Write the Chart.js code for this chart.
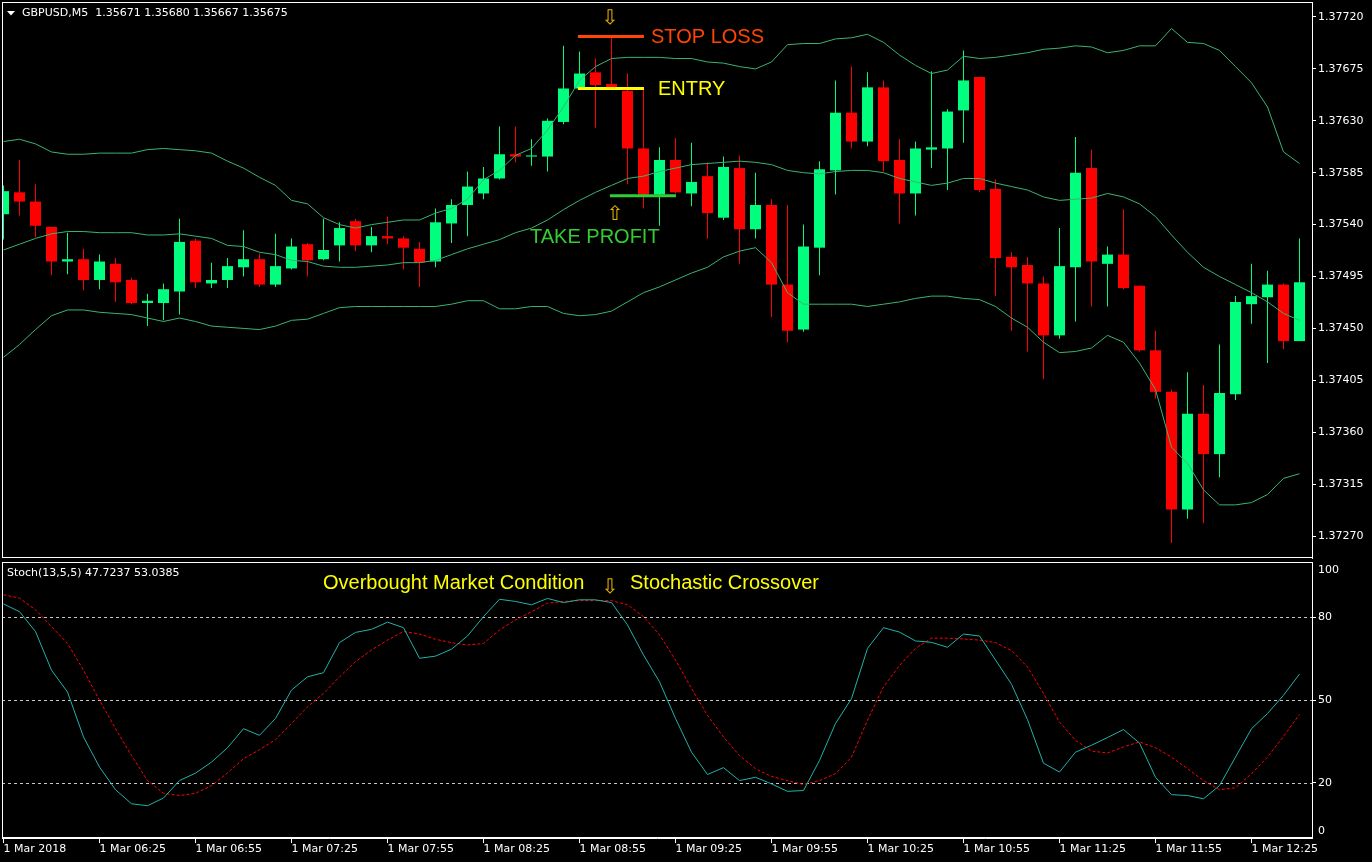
<!DOCTYPE html>
<html>
<head>
<meta charset="utf-8">
<script src="https://cdn.jsdelivr.net/npm/chart.js@4.4.1/dist/chart.umd.min.js"></script>
<style>
  html, body { margin: 0; padding: 0; background: #000; }
  #wrap { position: relative; width: 1372px; height: 862px; background: #000; overflow: hidden; }
  #price { position: absolute; left: 0; top: 0; }
  #stoch { position: absolute; left: 0; top: 560px; }
</style>
</head>
<body>
<div id="wrap">
  <canvas id="price" width="1372" height="560"></canvas>
  <canvas id="stoch" width="1372" height="302"></canvas>
</div>
<script>
// GBPUSD M5, bars from 1 Mar 05:55 to 12:40
const opens = [1.37549, 1.37568, 1.37560, 1.37538, 1.37508, 1.37510, 1.37492, 1.37506, 1.37492, 1.37472,
  1.37472, 1.37482, 1.37526, 1.37489, 1.37492, 1.37503, 1.37510, 1.37488, 1.37502, 1.37523,
  1.37510, 1.37522, 1.37543, 1.37522, 1.37530, 1.37528, 1.37519, 1.37508, 1.37541, 1.37557,
  1.37567, 1.37580, 1.37601, 1.37599, 1.37599, 1.37629, 1.37658, 1.37672, 1.37662, 1.37656,
  1.37606, 1.37566, 1.37596, 1.37567, 1.37582, 1.37546, 1.37589, 1.37536, 1.37557, 1.37488,
  1.37449, 1.37520, 1.37587, 1.37637, 1.37612, 1.37659, 1.37596, 1.37567, 1.37605, 1.37606,
  1.37639, 1.37668, 1.37571, 1.37512, 1.37505, 1.37489, 1.37444, 1.37503, 1.37589, 1.37506,
  1.37514, 1.37487, 1.37431, 1.37395, 1.37293, 1.37376, 1.37341, 1.37393, 1.37471, 1.37477,
  1.37488, 1.37439];
const highs = [1.37574, 1.37596, 1.37575, 1.37538, 1.37533, 1.37519, 1.37514, 1.37511, 1.37494, 1.37480,
  1.37489, 1.37545, 1.37528, 1.37507, 1.37511, 1.37535, 1.37515, 1.37532, 1.37528, 1.37524,
  1.37545, 1.37542, 1.37545, 1.37538, 1.37547, 1.37530, 1.37525, 1.37554, 1.37562, 1.37586,
  1.37590, 1.37625, 1.37625, 1.37614, 1.37632, 1.37695, 1.37690, 1.37684, 1.37702, 1.37671,
  1.37658, 1.37607, 1.37615, 1.37611, 1.37594, 1.37599, 1.37600, 1.37585, 1.37562, 1.37557,
  1.37540, 1.37595, 1.37665, 1.37677, 1.37672, 1.37665, 1.37614, 1.37612, 1.37673, 1.37640,
  1.37691, 1.37668, 1.37579, 1.37516, 1.37512, 1.37495, 1.37537, 1.37616, 1.37605, 1.37521,
  1.37553, 1.37487, 1.37448, 1.37397, 1.37412, 1.37401, 1.37436, 1.37478, 1.37506, 1.37500,
  1.37489, 1.37528];
const lows = [1.37527, 1.37548, 1.37529, 1.37496, 1.37497, 1.37483, 1.37484, 1.37473, 1.37471, 1.37452,
  1.37457, 1.37462, 1.37485, 1.37485, 1.37485, 1.37495, 1.37486, 1.37486, 1.37501, 1.37495,
  1.37509, 1.37508, 1.37517, 1.37516, 1.37523, 1.37501, 1.37486, 1.37503, 1.37524, 1.37530,
  1.37562, 1.37579, 1.37594, 1.37591, 1.37586, 1.37627, 1.37657, 1.37624, 1.37657, 1.37575,
  1.37554, 1.37539, 1.37567, 1.37556, 1.37528, 1.37544, 1.37506, 1.37528, 1.37460, 1.37438,
  1.37447, 1.37496, 1.37566, 1.37606, 1.37608, 1.37586, 1.37541, 1.37548, 1.37589, 1.37570,
  1.37611, 1.37568, 1.37478, 1.37448, 1.37430, 1.37406, 1.37441, 1.37456, 1.37469, 1.37469,
  1.37484, 1.37430, 1.37389, 1.37264, 1.37285, 1.37281, 1.37321, 1.37388, 1.37454, 1.37420,
  1.37432, 1.37439];
const closes = [1.37569, 1.37560, 1.37539, 1.37508, 1.37510, 1.37492, 1.37508, 1.37490, 1.37472, 1.37474,
  1.37484, 1.37525, 1.37490, 1.37492, 1.37504, 1.37510, 1.37488, 1.37504, 1.37521, 1.37509,
  1.37518, 1.37537, 1.37522, 1.37530, 1.37528, 1.37520, 1.37507, 1.37542, 1.37557, 1.37573,
  1.37580, 1.37601, 1.37599, 1.37600, 1.37630, 1.37658, 1.37671, 1.37661, 1.37658, 1.37606,
  1.37566, 1.37596, 1.37568, 1.37577, 1.37550, 1.37590, 1.37536, 1.37557, 1.37488, 1.37448,
  1.37521, 1.37588, 1.37637, 1.37612, 1.37659, 1.37595, 1.37567, 1.37606, 1.37607, 1.37638,
  1.37665, 1.37570, 1.37511, 1.37503, 1.37489, 1.37444, 1.37504, 1.37585, 1.37508, 1.37514,
  1.37485, 1.37431, 1.37395, 1.37293, 1.37376, 1.37341, 1.37394, 1.37473, 1.37478, 1.37488,
  1.37439, 1.37490];

// Bollinger bands
const bbUpper = [1.37612, 1.37614, 1.37610, 1.37603, 1.37601, 1.37601, 1.37602, 1.37602, 1.37602, 1.37605,
  1.37606, 1.37605, 1.37604, 1.37602, 1.37595, 1.37589, 1.37581, 1.37574, 1.37561, 1.37558,
  1.37546, 1.37540, 1.37537, 1.37540, 1.37542, 1.37544, 1.37544, 1.37550, 1.37554, 1.37562,
  1.37579, 1.37587, 1.37600, 1.37606, 1.37622, 1.37642, 1.37665, 1.37677, 1.37684, 1.37685,
  1.37685, 1.37685, 1.37684, 1.37684, 1.37681, 1.37680, 1.37677, 1.37675, 1.37681, 1.37696,
  1.37697, 1.37697, 1.37701, 1.37702, 1.37705, 1.37698, 1.37687, 1.37678, 1.37671, 1.37674,
  1.37686, 1.37684, 1.37685, 1.37687, 1.37689, 1.37692, 1.37693, 1.37695, 1.37694, 1.37689,
  1.37691, 1.37695, 1.37695, 1.37710, 1.37698, 1.37697, 1.37691, 1.37677, 1.37663, 1.37642,
  1.37603, 1.37593];
const bbMiddle = [1.37518, 1.37523, 1.37528, 1.37532, 1.37534, 1.37534, 1.37533, 1.37533, 1.37533, 1.37531,
  1.37531, 1.37532, 1.37530, 1.37528, 1.37522, 1.37521, 1.37516, 1.37514, 1.37509, 1.37508,
  1.37504, 1.37503, 1.37503, 1.37504, 1.37505, 1.37507, 1.37507, 1.37509, 1.37514, 1.37519,
  1.37523, 1.37527, 1.37533, 1.37537, 1.37544, 1.37553, 1.37561, 1.37568, 1.37574, 1.37580,
  1.37582, 1.37586, 1.37589, 1.37592, 1.37593, 1.37594, 1.37595, 1.37594, 1.37592, 1.37587,
  1.37585, 1.37584, 1.37586, 1.37587, 1.37587, 1.37585, 1.37580, 1.37577, 1.37574, 1.37576,
  1.37580, 1.37580, 1.37576, 1.37573, 1.37570, 1.37564, 1.37561, 1.37562, 1.37563, 1.37567,
  1.37564, 1.37558, 1.37547, 1.37531, 1.37516, 1.37503, 1.37495, 1.37488, 1.37481, 1.37473,
  1.37463, 1.37457];
const bbLower = [1.37425, 1.37436, 1.37449, 1.37461, 1.37466, 1.37466, 1.37464, 1.37463, 1.37462, 1.37459,
  1.37456, 1.37459, 1.37456, 1.37452, 1.37451, 1.37450, 1.37449, 1.37452, 1.37457, 1.37458,
  1.37463, 1.37468, 1.37469, 1.37469, 1.37469, 1.37469, 1.37469, 1.37469, 1.37471, 1.37474,
  1.37474, 1.37467, 1.37467, 1.37469, 1.37469, 1.37463, 1.37461, 1.37462, 1.37465, 1.37473,
  1.37481, 1.37486, 1.37492, 1.37498, 1.37503, 1.37512, 1.37517, 1.37520, 1.37507, 1.37481,
  1.37471, 1.37471, 1.37471, 1.37471, 1.37469, 1.37471, 1.37473, 1.37476, 1.37478, 1.37478,
  1.37476, 1.37475, 1.37469, 1.37459, 1.37451, 1.37438, 1.37429, 1.37430, 1.37433, 1.37444,
  1.37438, 1.37420, 1.37397, 1.37347, 1.37333, 1.37310, 1.37297, 1.37297, 1.37299, 1.37306,
  1.37320, 1.37324];

// Stochastic(13,5,5)
const stochMain = [84.8, 82.0, 74.8, 60.8, 52.9, 36.6, 25.7, 17.5, 12.4, 11.7,
  14.5, 20.8, 23.5, 27.5, 32.7, 39.6, 37.2, 43.3, 53.6, 58.4,
  59.9, 70.8, 74.5, 75.6, 78.2, 76.2, 65.1, 65.9, 68.4, 73.2,
  80.2, 86.5, 85.7, 84.5, 86.8, 85.3, 86.3, 86.3, 85.3, 77.2,
  66.3, 56.6, 43.3, 31.1, 23.0, 25.5, 20.8, 22.0, 19.6, 16.9,
  17.2, 28.1, 41.5, 50.5, 68.7, 76.2, 74.6, 71.4, 70.9, 69.1,
  73.9, 73.2, 64.5, 55.7, 42.9, 27.1, 23.9, 31.1, 33.6, 36.4,
  39.3, 34.4, 22.0, 15.7, 15.4, 14.2, 19.0, 29.3, 39.6, 45.1,
  51.7, 59.4];
const stochSignal = [88.1, 86.9, 82.7, 76.6, 70.5, 60.8, 49.9, 39.6, 29.9, 20.8,
  16.2, 15.4, 16.2, 19.0, 23.6, 28.7, 32.0, 35.6, 41.5, 47.5,
  52.4, 58.4, 63.9, 68.1, 71.7, 74.8, 73.9, 72.0, 70.8, 69.9,
  70.5, 75.4, 79.0, 82.0, 85.1, 85.7, 86.0, 86.0, 86.0, 84.5,
  80.2, 73.6, 64.5, 54.2, 44.5, 36.6, 29.9, 25.1, 22.3, 20.8,
  19.4, 20.8, 23.3, 29.3, 42.7, 54.8, 62.5, 68.7, 72.4, 72.4,
  72.1, 71.7, 70.8, 67.9, 62.0, 52.4, 42.0, 35.4, 31.5, 30.8,
  33.0, 34.8, 32.7, 29.3, 25.1, 20.8, 17.5, 18.2, 23.3, 29.3,
  36.8, 44.8];

const priceTicks = [1.37270, 1.37315, 1.37360, 1.37405, 1.37450, 1.37495, 1.37540, 1.37585, 1.37630, 1.37675, 1.37720];
const stochTicks = [0, 20, 50, 80, 100];
const stochLevels = [20, 50, 80];
const timeTickBars = [0, 6, 12, 18, 24, 30, 36, 42, 48, 54, 60, 66, 72, 78];
const timeLabels = ['1 Mar 2018', '1 Mar 06:25', '1 Mar 06:55', '1 Mar 07:25', '1 Mar 07:55', '1 Mar 08:25', '1 Mar 08:55',
  '1 Mar 09:25', '1 Mar 09:55', '1 Mar 10:25', '1 Mar 10:55', '1 Mar 11:25', '1 Mar 11:55', '1 Mar 12:25'];

// trade levels drawn on the price panel
const levelNames = ['STOP LOSS', 'ENTRY', 'TAKE PROFIT'];
const levelPrices = [1.37703, 1.37658, 1.37565];
const levelFrom = [35.9, 35.9, 37.9];
const levelTo = [40.03, 40.03, 42.03];
const levelColors = ['#ff4500', '#ffff00', '#32cd32'];

// view window (bars) and price range of the panels
const X_MIN = -0.09375, X_MAX = 81.78125;
const PRICE_MIN = 1.3725095, PRICE_MAX = 1.37733;

const BULL = '#00ff7f', BEAR = '#ff0000', BAND = '#3cb371';
const SMALL = '11px "DejaVu Sans", Tahoma, sans-serif';
const BIG = '20px "Liberation Sans", Arial, sans-serif';
const ARROW = '20px "DejaVu Sans"';

const candleColors = opens.map((o, i) => closes[i] >= o ? BULL : BEAR);
const bodyData = opens.map((o, i) => ({ x: i, y: [o, closes[i]] }));
const wickData = lows.map((l, i) => ({ x: i, y: [l, highs[i]] }));
const toPoints = (arr) => arr.map((v, i) => ({ x: i, y: v }));

function noPad(s) {
  s.paddingTop = 0; s.paddingBottom = 0; s.paddingLeft = 0; s.paddingRight = 0;
}

function lineSet(data, color, extra) {
  return Object.assign({
    type: 'line', data: data, borderColor: color, borderWidth: 1,
    pointRadius: 0, tension: 0, fill: false, order: 0
  }, extra || {});
}

function drawFrame(chart) {
  const { ctx, chartArea: a } = chart;
  ctx.save();
  ctx.strokeStyle = '#ffffff';
  ctx.lineWidth = 1;
  ctx.strokeRect(a.left + 0.5, a.top + 0.5, a.right - a.left, a.bottom - a.top - 1);
  ctx.restore();
}

const priceOverlay = {
  id: 'priceOverlay',
  afterDraw(chart) {
    const ctx = chart.ctx;
    drawFrame(chart);
    ctx.save();
    ctx.fillStyle = '#ffffff';
    ctx.beginPath();
    ctx.moveTo(7, 11); ctx.lineTo(15, 11); ctx.lineTo(11, 15.5);
    ctx.closePath(); ctx.fill();
    ctx.font = SMALL;
    ctx.textBaseline = 'middle';
    ctx.fillText('GBPUSD,M5  1.35671 1.35680 1.35667 1.35675', 22, 13);

    ctx.font = BIG;
    ctx.fillStyle = levelColors[0]; ctx.fillText(levelNames[0], 651, 37);
    ctx.fillStyle = levelColors[1]; ctx.fillText(levelNames[1], 658, 89);
    ctx.fillStyle = levelColors[2]; ctx.fillText(levelNames[2], 530, 237);

    ctx.font = ARROW;
    ctx.textAlign = 'center';
    ctx.fillStyle = '#e8b400';
    ctx.fillText('\u21E9', 610, 19);
    ctx.fillText('\u21E7', 615, 215);
    ctx.restore();
  }
};

const stochOverlay = {
  id: 'stochOverlay',
  beforeDatasetsDraw(chart) {
    const { ctx, chartArea: a, scales } = chart;
    ctx.save();
    ctx.strokeStyle = '#c8c8c8';
    ctx.lineWidth = 1;
    ctx.setLineDash([3, 3]);
    stochLevels.forEach((lv) => {
      const y = Math.round(scales.y.getPixelForValue(lv)) + 0.5;
      ctx.beginPath();
      ctx.moveTo(a.left, y);
      ctx.lineTo(a.right, y);
      ctx.stroke();
    });
    ctx.restore();
  },
  afterDraw(chart) {
    const ctx = chart.ctx;
    drawFrame(chart);
    ctx.save();
    ctx.textBaseline = 'middle';
    ctx.font = SMALL;
    ctx.fillStyle = '#ffffff';
    ctx.fillText('Stoch(13,5,5) 47.7237 53.0385', 7, 13);
    ctx.font = BIG;
    ctx.fillStyle = '#ffff00';
    ctx.fillText('Overbought Market Condition', 323, 23);
    ctx.fillText('Stochastic Crossover', 630, 23);
    ctx.font = ARROW;
    ctx.textAlign = 'center';
    ctx.fillStyle = '#e8b400';
    ctx.fillText('\u21E9', 610, 28);
    ctx.restore();
  }
};

const baseOptions = {
  responsive: false,
  animation: false,
  devicePixelRatio: 1,
  events: [],
  plugins: { legend: { display: false }, tooltip: { enabled: false } }
};

const levelSets = levelNames.map((name, k) => lineSet(
  [{ x: levelFrom[k], y: levelPrices[k] }, { x: levelTo[k], y: levelPrices[k] }],
  levelColors[k], { borderWidth: 3, borderCapStyle: 'butt' }
));

new Chart(document.getElementById('price'), {
  type: 'bar',
  data: {
    datasets: [
      lineSet(toPoints(bbUpper), BAND),
      lineSet(toPoints(bbMiddle), BAND),
      lineSet(toPoints(bbLower), BAND),
      ...levelSets,
      {
        type: 'bar', data: bodyData, backgroundColor: candleColors, borderWidth: 0,
        grouped: false, categoryPercentage: 1, barPercentage: 1, maxBarThickness: 11,
        inflateAmount: 0, order: 1
      },
      {
        type: 'bar', data: wickData, backgroundColor: candleColors, borderWidth: 0,
        grouped: false, categoryPercentage: 1, barPercentage: 1, maxBarThickness: 1,
        inflateAmount: 0, order: 2
      }
    ]
  },
  options: Object.assign({}, baseOptions, {
    layout: { padding: { left: 2, top: 2, right: 0, bottom: 2 } },
    scales: {
      x: { type: 'linear', min: X_MIN, max: X_MAX, offset: false, display: false },
      y: {
        position: 'right', min: PRICE_MIN, max: PRICE_MAX,
        afterBuildTicks: (s) => { s.ticks = priceTicks.map((v) => ({ value: v })); },
        afterFit: (s) => { s.width = 60; noPad(s); },
        ticks: {
          color: '#ffffff', font: { family: 'DejaVu Sans', size: 11 }, padding: 2,
          autoSkip: false, callback: (v) => Number(v).toFixed(5)
        },
        grid: { drawOnChartArea: false, tickLength: 4, tickColor: '#ffffff' },
        border: { color: '#ffffff', width: 1 }
      }
    }
  }),
  plugins: [priceOverlay]
});

new Chart(document.getElementById('stoch'), {
  type: 'line',
  data: {
    datasets: [
      lineSet(toPoints(stochMain), '#20b2aa'),
      lineSet(toPoints(stochSignal), '#ff0000', { borderDash: [3, 2] })
    ]
  },
  options: Object.assign({}, baseOptions, {
    layout: { padding: { left: 2, top: 2, right: 0, bottom: 0 } },
    scales: {
      x: {
        type: 'linear', position: 'bottom', min: X_MIN, max: X_MAX, offset: false,
        afterBuildTicks: (s) => { s.ticks = timeTickBars.map((v) => ({ value: v })); },
        afterFit: (s) => { s.height = 24; noPad(s); },
        ticks: {
          color: '#ffffff', font: { family: 'DejaVu Sans', size: 11 }, padding: 0,
          align: 'start', maxRotation: 0, minRotation: 0, autoSkip: false,
          callback: (v) => timeLabels[timeTickBars.indexOf(v)]
        },
        grid: { drawOnChartArea: false, tickLength: 5, tickColor: '#ffffff' },
        border: { color: '#ffffff', width: 1 }
      },
      y: {
        position: 'right', min: 0, max: 100,
        // end labels sit just inside the panel, as in the terminal
        afterBuildTicks: (s) => { s.ticks = stochTicks.map((v) => ({ value: Math.min(Math.max(v, 2.6), 97) })); },
        afterFit: (s) => { s.width = 60; noPad(s); },
        ticks: {
          color: '#ffffff', font: { family: 'DejaVu Sans', size: 11 }, padding: 2, autoSkip: false,
          callback: (v) => String(stochTicks.reduce((b, t) => Math.abs(t - v) < Math.abs(b - v) ? t : b))
        },
        grid: {
          drawOnChartArea: false, tickLength: 4,
          tickColor: (c) => (c.tick && stochLevels.includes(c.tick.value)) ? '#ffffff' : 'rgba(0,0,0,0)'
        },
        border: { color: '#ffffff', width: 1 }
      }
    }
  }),
  plugins: [stochOverlay]
});
</script>
</body>
</html>
